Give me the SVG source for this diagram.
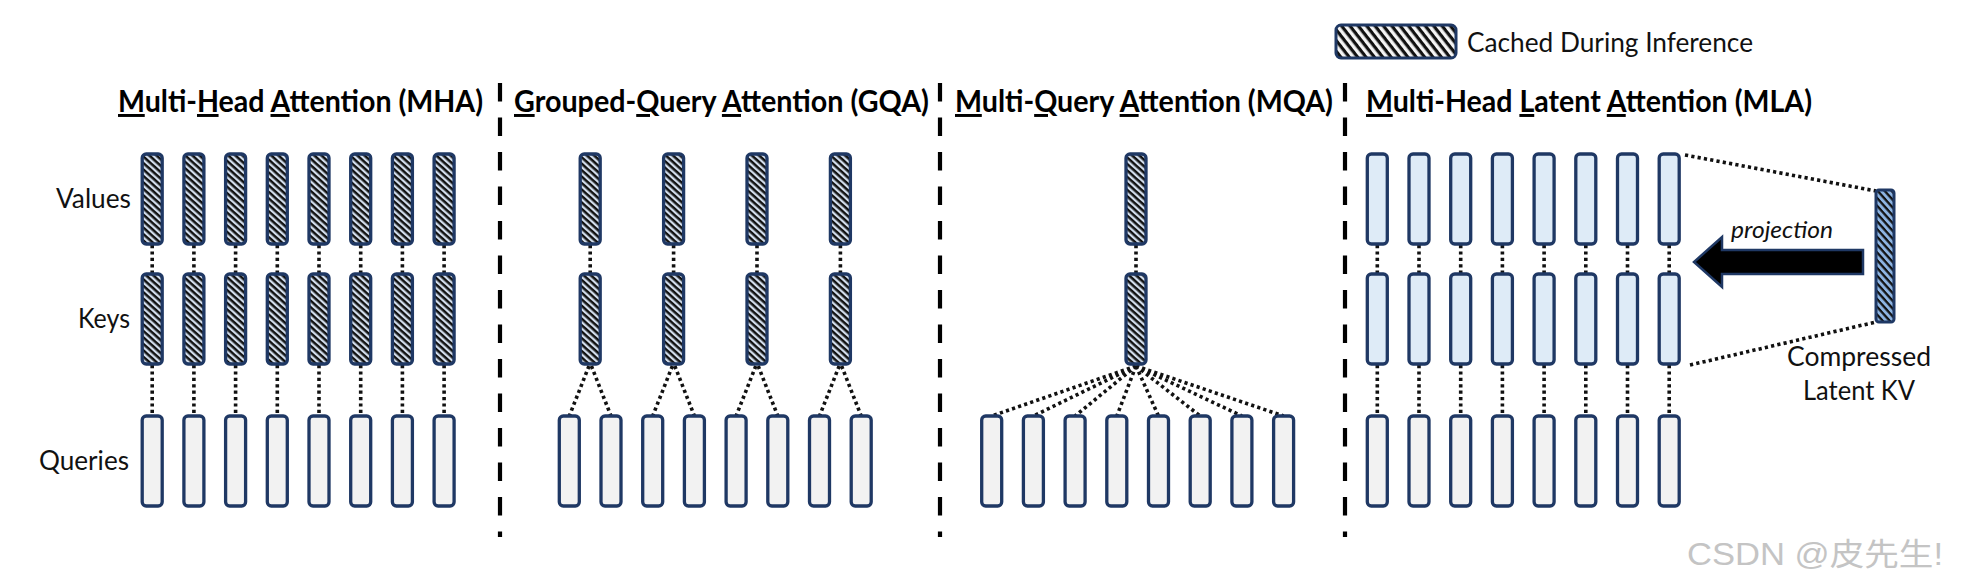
<svg xmlns="http://www.w3.org/2000/svg" width="1978" height="574" viewBox="0 0 1978 574">
<defs>
<pattern id="hatch" patternUnits="userSpaceOnUse" width="4.8" height="4.8" patternTransform="rotate(42)">
<rect width="4.8" height="4.8" fill="#d3deed"/><rect width="4.8" height="2.5" fill="#111"/>
</pattern>
<pattern id="hatchLeg" patternUnits="userSpaceOnUse" width="6.6" height="6.6" patternTransform="rotate(52)">
<rect width="6.6" height="6.6" fill="#f4f4f4"/><rect width="6.6" height="3.2" fill="#111"/>
</pattern>
<pattern id="hatchC" patternUnits="userSpaceOnUse" width="5.2" height="5.2" patternTransform="rotate(48)">
<rect width="5.2" height="5.2" fill="#8db4e2"/><rect width="5.2" height="2.3" fill="#111"/>
</pattern>
<style>
.kv{fill:url(#hatch);stroke:#1f3864;stroke-width:3.3}
.q{fill:#f2f2f2;stroke:#1f3864;stroke-width:3.3}
.lt{fill:#deebf7;stroke:#1f3864;stroke-width:3.3}
.dot{stroke:#111;stroke-width:3.6;stroke-dasharray:3.2 3.2;fill:none}
.sep{stroke:#000;stroke-width:4.2;stroke-dasharray:18.5 16;fill:none}
.title{font-family:Lato,"Open Sans","Liberation Sans",sans-serif;font-weight:bold;font-size:29.5px;fill:#000}
.lbl{font-family:Lato,"Open Sans","Liberation Sans",sans-serif;font-size:27px;fill:#111}
.u{text-decoration:underline}
</style>
</defs>
<rect width="1978" height="574" fill="#fff"/>

<g id="separators">
<line class="sep" x1="500" y1="83" x2="500" y2="537"/>
<line class="sep" x1="940" y1="83" x2="940" y2="537"/>
<line class="sep" x1="1345" y1="83" x2="1345" y2="537"/>
</g>

<g id="legend">
<rect x="1336" y="25" width="120" height="33" rx="5" fill="url(#hatchLeg)" stroke="#1f3864" stroke-width="3"/>
<text class="lbl" x="1467" y="52" textLength="286" lengthAdjust="spacingAndGlyphs">Cached During Inference</text>
</g>

<g id="titles">
<text class="title" x="118" y="112" textLength="365" lengthAdjust="spacingAndGlyphs"><tspan class="u">M</tspan>ulti-<tspan class="u">H</tspan>ead <tspan class="u">A</tspan>ttention (MHA)</text>
<text class="title" x="514" y="112" textLength="415" lengthAdjust="spacingAndGlyphs"><tspan class="u">G</tspan>rouped-<tspan class="u">Q</tspan>uery <tspan class="u">A</tspan>ttention (GQA)</text>
<text class="title" x="955" y="112" textLength="378" lengthAdjust="spacingAndGlyphs"><tspan class="u">M</tspan>ulti-<tspan class="u">Q</tspan>uery <tspan class="u">A</tspan>ttention (MQA)</text>
<text class="title" x="1366" y="112" textLength="446" lengthAdjust="spacingAndGlyphs"><tspan class="u">M</tspan>ulti-Head <tspan class="u">L</tspan>atent <tspan class="u">A</tspan>ttention (MLA)</text>
</g>

<g id="row-labels">
<text class="lbl" x="56" y="208" textLength="75" lengthAdjust="spacingAndGlyphs">Values</text>
<text class="lbl" x="78" y="328" textLength="52" lengthAdjust="spacingAndGlyphs">Keys</text>
<text class="lbl" x="39" y="470" textLength="90" lengthAdjust="spacingAndGlyphs">Queries</text>
</g>

<g id="connectors">
<path class="dot" d="M152.2 245V274M193.9 245V274M235.6 245V274M277.3 245V274M319 245V274M360.7 245V274M402.4 245V274M444.1 245V274"/>
<path class="dot" d="M152.2 365V416M193.9 365V416M235.6 365V416M277.3 365V416M319 365V416M360.7 365V416M402.4 365V416M444.1 365V416"/>
<path class="dot" d="M590.2 245V274M673.6 245V274M757 245V274M840.4 245V274"/>
<path class="dot" d="M589 366L569.3 416M591.4 366L611 416M672.4 366L652.7 416M674.8 366L694.4 416M755.8 366L736.1 416M758.2 366L777.8 416M839.2 366L819.5 416M841.6 366L861.2 416"/>
<path class="dot" d="M1136 245V274"/>
<path class="dot" d="M1136 366L991.7 416M1136 366L1033.4 416M1136 366L1075.1 416M1136 366L1116.8 416M1136 366L1158.5 416M1136 366L1200.2 416M1136 366L1241.9 416M1136 366L1283.6 416"/>
<path class="dot" d="M1377.3 245V274M1419 245V274M1460.7 245V274M1502.4 245V274M1544.1 245V274M1585.8 245V274M1627.5 245V274M1669.2 245V274"/>
<path class="dot" d="M1377.3 365V416M1419 365V416M1460.7 365V416M1502.4 365V416M1544.1 365V416M1585.8 365V416M1627.5 365V416M1669.2 365V416"/>
<path class="dot" d="M1685 155L1876 191M1690 365L1876 322"/>
</g>

<g id="mha">
<g id="mha-v1"><rect class="kv" x="142.2" y="154" width="20" height="90" rx="4"/></g>
<g id="mha-v2"><rect class="kv" x="183.9" y="154" width="20" height="90" rx="4"/></g>
<g id="mha-v3"><rect class="kv" x="225.6" y="154" width="20" height="90" rx="4"/></g>
<g id="mha-v4"><rect class="kv" x="267.3" y="154" width="20" height="90" rx="4"/></g>
<g id="mha-v5"><rect class="kv" x="309" y="154" width="20" height="90" rx="4"/></g>
<g id="mha-v6"><rect class="kv" x="350.7" y="154" width="20" height="90" rx="4"/></g>
<g id="mha-v7"><rect class="kv" x="392.4" y="154" width="20" height="90" rx="4"/></g>
<g id="mha-v8"><rect class="kv" x="434.1" y="154" width="20" height="90" rx="4"/></g>
<g id="mha-k1"><rect class="kv" x="142.2" y="274" width="20" height="90" rx="4"/></g>
<g id="mha-k2"><rect class="kv" x="183.9" y="274" width="20" height="90" rx="4"/></g>
<g id="mha-k3"><rect class="kv" x="225.6" y="274" width="20" height="90" rx="4"/></g>
<g id="mha-k4"><rect class="kv" x="267.3" y="274" width="20" height="90" rx="4"/></g>
<g id="mha-k5"><rect class="kv" x="309" y="274" width="20" height="90" rx="4"/></g>
<g id="mha-k6"><rect class="kv" x="350.7" y="274" width="20" height="90" rx="4"/></g>
<g id="mha-k7"><rect class="kv" x="392.4" y="274" width="20" height="90" rx="4"/></g>
<g id="mha-k8"><rect class="kv" x="434.1" y="274" width="20" height="90" rx="4"/></g>
<g id="mha-q1"><rect class="q" x="142.2" y="416" width="20" height="90" rx="4"/></g>
<g id="mha-q2"><rect class="q" x="183.9" y="416" width="20" height="90" rx="4"/></g>
<g id="mha-q3"><rect class="q" x="225.6" y="416" width="20" height="90" rx="4"/></g>
<g id="mha-q4"><rect class="q" x="267.3" y="416" width="20" height="90" rx="4"/></g>
<g id="mha-q5"><rect class="q" x="309" y="416" width="20" height="90" rx="4"/></g>
<g id="mha-q6"><rect class="q" x="350.7" y="416" width="20" height="90" rx="4"/></g>
<g id="mha-q7"><rect class="q" x="392.4" y="416" width="20" height="90" rx="4"/></g>
<g id="mha-q8"><rect class="q" x="434.1" y="416" width="20" height="90" rx="4"/></g>
</g>

<g id="gqa">
<g id="gqa-v1"><rect class="kv" x="580.2" y="154" width="20" height="90" rx="4"/></g>
<g id="gqa-v2"><rect class="kv" x="663.6" y="154" width="20" height="90" rx="4"/></g>
<g id="gqa-v3"><rect class="kv" x="747" y="154" width="20" height="90" rx="4"/></g>
<g id="gqa-v4"><rect class="kv" x="830.4" y="154" width="20" height="90" rx="4"/></g>
<g id="gqa-k1"><rect class="kv" x="580.2" y="274" width="20" height="90" rx="4"/></g>
<g id="gqa-k2"><rect class="kv" x="663.6" y="274" width="20" height="90" rx="4"/></g>
<g id="gqa-k3"><rect class="kv" x="747" y="274" width="20" height="90" rx="4"/></g>
<g id="gqa-k4"><rect class="kv" x="830.4" y="274" width="20" height="90" rx="4"/></g>
<g id="gqa-q1"><rect class="q" x="559.3" y="416" width="20" height="90" rx="4"/></g>
<g id="gqa-q2"><rect class="q" x="601" y="416" width="20" height="90" rx="4"/></g>
<g id="gqa-q3"><rect class="q" x="642.7" y="416" width="20" height="90" rx="4"/></g>
<g id="gqa-q4"><rect class="q" x="684.4" y="416" width="20" height="90" rx="4"/></g>
<g id="gqa-q5"><rect class="q" x="726.1" y="416" width="20" height="90" rx="4"/></g>
<g id="gqa-q6"><rect class="q" x="767.8" y="416" width="20" height="90" rx="4"/></g>
<g id="gqa-q7"><rect class="q" x="809.5" y="416" width="20" height="90" rx="4"/></g>
<g id="gqa-q8"><rect class="q" x="851.2" y="416" width="20" height="90" rx="4"/></g>
</g>

<g id="mqa">
<g id="mqa-v"><rect class="kv" x="1126" y="154" width="20" height="90" rx="4"/></g>
<g id="mqa-k"><rect class="kv" x="1126" y="274" width="20" height="90" rx="4"/></g>
<g id="mqa-q1"><rect class="q" x="981.7" y="416" width="20" height="90" rx="4"/></g>
<g id="mqa-q2"><rect class="q" x="1023.4" y="416" width="20" height="90" rx="4"/></g>
<g id="mqa-q3"><rect class="q" x="1065.1" y="416" width="20" height="90" rx="4"/></g>
<g id="mqa-q4"><rect class="q" x="1106.8" y="416" width="20" height="90" rx="4"/></g>
<g id="mqa-q5"><rect class="q" x="1148.5" y="416" width="20" height="90" rx="4"/></g>
<g id="mqa-q6"><rect class="q" x="1190.2" y="416" width="20" height="90" rx="4"/></g>
<g id="mqa-q7"><rect class="q" x="1231.9" y="416" width="20" height="90" rx="4"/></g>
<g id="mqa-q8"><rect class="q" x="1273.6" y="416" width="20" height="90" rx="4"/></g>
</g>

<g id="mla">
<g id="mla-v1"><rect class="lt" x="1367.3" y="154" width="20" height="90" rx="4"/></g>
<g id="mla-v2"><rect class="lt" x="1409" y="154" width="20" height="90" rx="4"/></g>
<g id="mla-v3"><rect class="lt" x="1450.7" y="154" width="20" height="90" rx="4"/></g>
<g id="mla-v4"><rect class="lt" x="1492.4" y="154" width="20" height="90" rx="4"/></g>
<g id="mla-v5"><rect class="lt" x="1534.1" y="154" width="20" height="90" rx="4"/></g>
<g id="mla-v6"><rect class="lt" x="1575.8" y="154" width="20" height="90" rx="4"/></g>
<g id="mla-v7"><rect class="lt" x="1617.5" y="154" width="20" height="90" rx="4"/></g>
<g id="mla-v8"><rect class="lt" x="1659.2" y="154" width="20" height="90" rx="4"/></g>
<g id="mla-k1"><rect class="lt" x="1367.3" y="274" width="20" height="90" rx="4"/></g>
<g id="mla-k2"><rect class="lt" x="1409" y="274" width="20" height="90" rx="4"/></g>
<g id="mla-k3"><rect class="lt" x="1450.7" y="274" width="20" height="90" rx="4"/></g>
<g id="mla-k4"><rect class="lt" x="1492.4" y="274" width="20" height="90" rx="4"/></g>
<g id="mla-k5"><rect class="lt" x="1534.1" y="274" width="20" height="90" rx="4"/></g>
<g id="mla-k6"><rect class="lt" x="1575.8" y="274" width="20" height="90" rx="4"/></g>
<g id="mla-k7"><rect class="lt" x="1617.5" y="274" width="20" height="90" rx="4"/></g>
<g id="mla-k8"><rect class="lt" x="1659.2" y="274" width="20" height="90" rx="4"/></g>
<g id="mla-q1"><rect class="q" x="1367.3" y="416" width="20" height="90" rx="4"/></g>
<g id="mla-q2"><rect class="q" x="1409" y="416" width="20" height="90" rx="4"/></g>
<g id="mla-q3"><rect class="q" x="1450.7" y="416" width="20" height="90" rx="4"/></g>
<g id="mla-q4"><rect class="q" x="1492.4" y="416" width="20" height="90" rx="4"/></g>
<g id="mla-q5"><rect class="q" x="1534.1" y="416" width="20" height="90" rx="4"/></g>
<g id="mla-q6"><rect class="q" x="1575.8" y="416" width="20" height="90" rx="4"/></g>
<g id="mla-q7"><rect class="q" x="1617.5" y="416" width="20" height="90" rx="4"/></g>
<g id="mla-q8"><rect class="q" x="1659.2" y="416" width="20" height="90" rx="4"/></g>
</g>

<g id="projection-arrow">
<path d="M1863 250L1722 250L1722 237L1694 262L1722 287L1722 274L1863 274Z" fill="#000" stroke="#1f3864" stroke-width="2.5" stroke-linejoin="miter"/>
<text x="1731" y="238" textLength="102" lengthAdjust="spacingAndGlyphs" style="font-family:Lato,'Open Sans','Liberation Sans',sans-serif;font-style:italic;font-size:24px;fill:#111">projection</text>
</g>

<g id="compressed-kv">
<rect x="1876" y="190" width="18" height="132" rx="3" fill="url(#hatchC)" stroke="#1f3864" stroke-width="3"/>
<text class="lbl" x="1787" y="366" textLength="144" lengthAdjust="spacingAndGlyphs">Compressed</text>
<text class="lbl" x="1803" y="400" textLength="112" lengthAdjust="spacingAndGlyphs">Latent KV</text>
</g>

<g id="watermark">
<text x="1687" y="565" textLength="256" lengthAdjust="spacingAndGlyphs" style="font-family:'Liberation Sans','Noto Sans CJK SC',sans-serif;font-size:31px;fill:#c4c4c4">CSDN @皮先生!</text>
</g>
</svg>
